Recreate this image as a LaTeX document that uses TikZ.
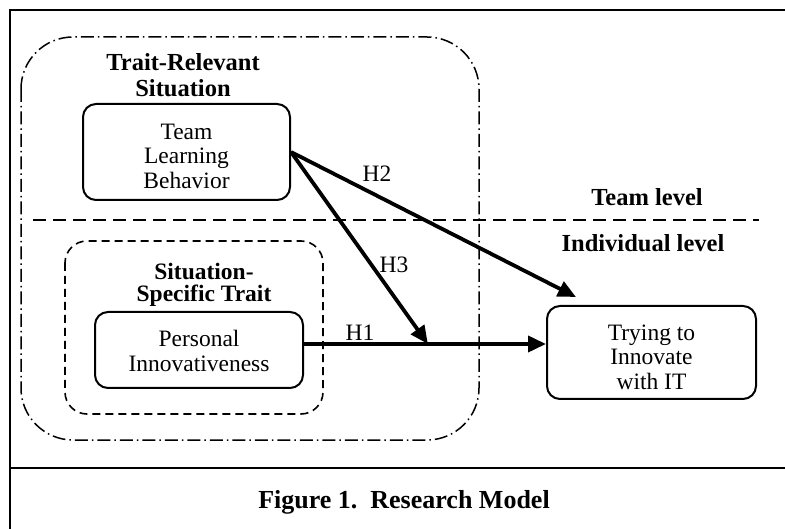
\documentclass[tikz,border=0pt]{standalone}
\usepackage{fontspec}
\setmainfont{Liberation Serif}
\usetikzlibrary{arrows.meta,calc}
\begin{document}
\begin{tikzpicture}[x=1pt,y=-1pt,
  frameline/.style={line width=2.8pt},
  cbox/.style={draw,line width=2pt,rounded corners=13pt,inner sep=0pt},
  ctext/.style={align=center,inner sep=0pt,font=\fontsize{23.5}{24.5}\selectfont},
  head/.style={align=center,inner sep=0pt,font=\fontsize{24.5}{26}\selectfont\bfseries},
  hlab/.style={inner sep=0pt,font=\fontsize{23.5}{24.5}\selectfont},
  conn/.style={line width=3.8pt,-{Triangle[length=18pt,width=16pt]}},
  dashdot/.style={line width=1.5pt,dash pattern=on 13pt off 4pt on 1.5pt off 4pt},
  shortdash/.style={line width=1.6pt,dash pattern=on 8pt off 5pt},
  leveldash/.style={line width=2pt,dash pattern=on 13pt off 7pt}]
\useasboundingbox (0,0) rectangle (785,529);
% outer frame
\draw[frameline] (785,10) -- (10,10) -- (10,529);
\draw[frameline] (10,468) -- (785,468);
% grouping boxes
\draw[dashdot,rounded corners=52pt] (21,37) rectangle (479,440);
\draw[shortdash,rounded corners=22pt] (65,241) rectangle (323,414);
% level separator
\draw[leveldash] (33,220) -- (759,220);
% headings
\node[head] (trs) at (183,75) {Trait-Relevant\\Situation};
\node[head,font=\fontsize{23.5}{22.5}\selectfont\bfseries] (sst) at (204,285) {Situation-\\Specific Trait};
\node[head] (tl) at (647,197) {Team level};
\node[head] (il) at (643,243) {Individual level};
% construct boxes
\node[cbox,minimum width=207pt,minimum height=96pt] (TLB) at (186.5,152) {};
\node[ctext] (TLBt) at (186.5,156) {Team\\Learning\\Behavior};
\node[cbox,minimum width=208pt,minimum height=76pt] (PI) at (199,350) {};
\node[ctext] (PIt) at (199,351) {Personal\\Innovativeness};
\node[cbox,minimum width=209pt,minimum height=93pt] (TI) at (651.5,352.5) {};
\node[ctext] (TIt) at (651.5,357) {Trying to\\Innovate\\with IT};
% connectors
\coordinate (a) at ([yshift=6pt]PI.east);
\coordinate (b) at (TI.west |- a);
\coordinate (m) at ($(a)!0.512!(b)$);
\coordinate (h2end) at ([xshift=30pt,yshift=8pt]TI.north west);
\draw[conn] (a) -- (b);
\draw[conn] (TLB.east) -- (h2end);
\draw[conn] (TLB.east) -- (m);
% hypothesis labels
\node[hlab] (h1) at (360,333) {H1};
\node[hlab] (h2) at (377,174) {H2};
\node[hlab] (h3) at (394,265) {H3};
% caption
\node[inner sep=0pt,font=\fontsize{26}{28}\selectfont\bfseries] (cap) at (404,502) {Figure 1.\ \ Research Model};
\end{tikzpicture}
\end{document}
